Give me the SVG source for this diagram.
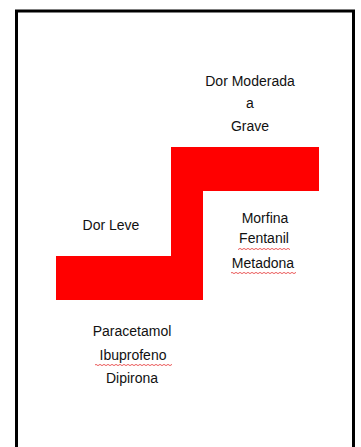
<svg xmlns="http://www.w3.org/2000/svg" width="361" height="447" viewBox="0 0 361 447">
  <style>
    .lbl { font-family: "Liberation Sans", Arial, sans-serif; font-size: 14px; fill: #111; text-anchor: middle; }
    .frame { fill: none; stroke: #000; stroke-width: 3; }
    .step { fill: #ff0000; stroke: none; }
  </style>
  <defs>
    <pattern id="wavy" x="0" y="0" width="4" height="2" patternUnits="userSpaceOnUse">
      <path d="M0,0.4 L2,1.6 L4,0.4" fill="none" stroke="#e53030" stroke-width="0.8"/>
    </pattern>
  </defs>
  <rect width="361" height="447" fill="#fff"/>
  <g id="frame">
    <rect class="frame" x="16.5" y="11" width="337" height="450"/>
  </g>
  <g id="staircase">
    <polygon class="step" points="56,256 171,256 171,147 319,147 319,191 203,191 203,300 56,300"/>
  </g>
  <g id="dor-moderada">
    <text class="lbl" x="250" y="86">Dor Moderada</text>
    <text class="lbl" x="250" y="108">a</text>
    <text class="lbl" x="250" y="131">Grave</text>
  </g>
  <g id="dor-leve">
    <text class="lbl" x="111" y="230">Dor Leve</text>
  </g>
  <g id="opioides">
    <text class="lbl" x="265" y="223">Morfina</text>
    <text class="lbl" x="264" y="243">Fentanil</text>
    <rect x="238" y="248" width="52" height="2" fill="url(#wavy)"/>
    <text class="lbl" x="263" y="268">Metadona</text>
    <rect x="231" y="272" width="65" height="2" fill="url(#wavy)"/>
  </g>
  <g id="analgesicos">
    <text class="lbl" x="132" y="336">Paracetamol</text>
    <text class="lbl" x="133" y="360">Ibuprofeno</text>
    <rect x="95" y="364" width="77" height="2" fill="url(#wavy)"/>
    <text class="lbl" x="132" y="383">Dipirona</text>
  </g>
</svg>
